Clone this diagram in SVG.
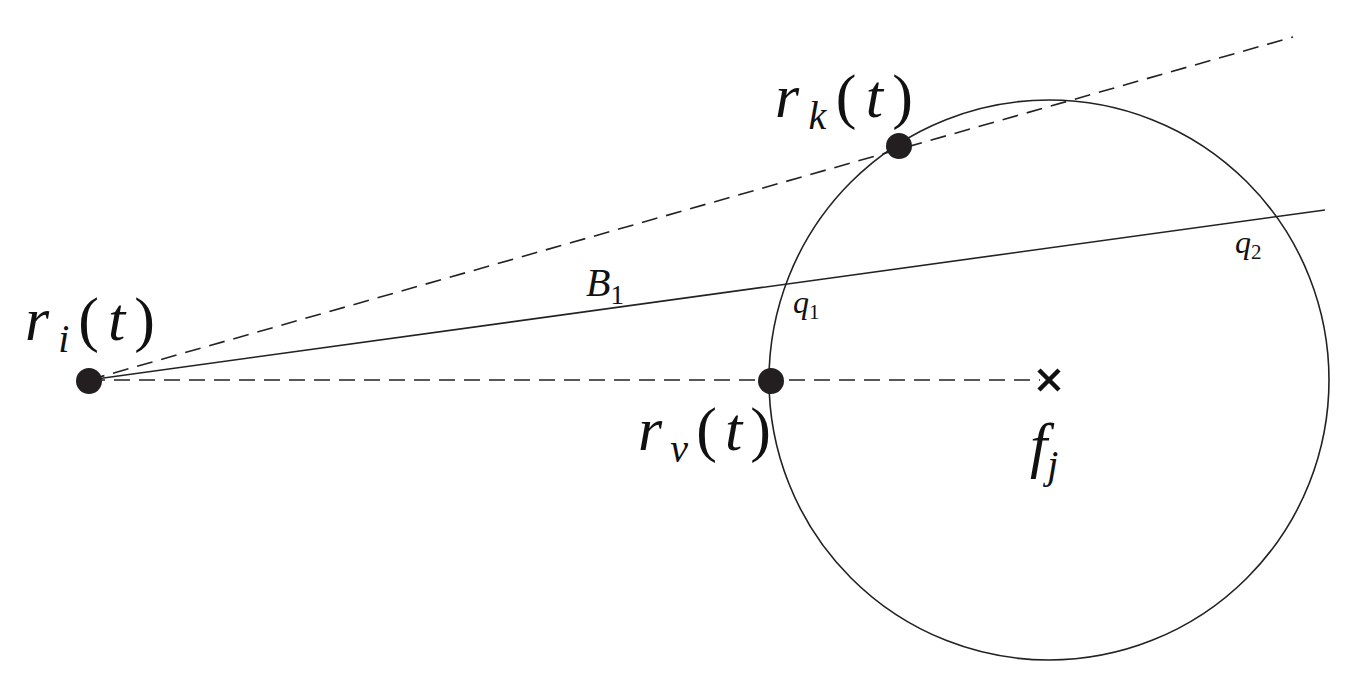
<svg xmlns="http://www.w3.org/2000/svg" width="1367" height="688" viewBox="0 0 1367 688">
<style>
.l{fill:none;stroke:#222;stroke-width:1.6}
.d{stroke-dasharray:16 9}
.t{font-family:"Liberation Serif","DejaVu Serif","Times New Roman",serif;fill:#111}
.i{font-style:italic}
.p{fill:#231f20}
</style>
<rect width="1367" height="688" fill="#fff"/>
<g id="connectors">
<line class="l d" x1="89" y1="380" x2="1293" y2="37"/>
<line class="l" x1="89" y1="380" x2="1325" y2="210"/>
<line class="l d" x1="89" y1="380" x2="1040" y2="380"/>
</g>
<g id="circle"><circle class="l" cx="1049" cy="380" r="280"/></g>
<g id="ri"><circle class="p" cx="89" cy="381" r="13"/>
<text class="t" x="25" y="340" font-size="62" textLength="130" lengthAdjust="spacing"><tspan class="i">r</tspan><tspan class="i" font-size="40" dy="12">i</tspan><tspan dy="-12">(</tspan><tspan class="i">t</tspan>)</text></g>
<g id="rk"><circle class="p" cx="899" cy="146" r="13"/>
<text class="t" x="775" y="117" font-size="62" textLength="138" lengthAdjust="spacing"><tspan class="i">r</tspan><tspan class="i" font-size="40" dy="12">k</tspan><tspan dy="-12">(</tspan><tspan class="i">t</tspan>)</text></g>
<g id="rv"><circle class="p" cx="771" cy="381" r="13"/>
<text class="t" x="638" y="450" font-size="62" textLength="133" lengthAdjust="spacing"><tspan class="i">r</tspan><tspan class="i" font-size="40" dy="12">v</tspan><tspan dy="-12">(</tspan><tspan class="i">t</tspan>)</text></g>
<g id="fj"><path d="M1039 370 L1059 390 M1059 370 L1039 390" stroke="#111" stroke-width="4.5"/>
<text class="t" x="1030" y="466" font-size="62"><tspan class="i">f</tspan><tspan class="i" font-size="40" dy="12">j</tspan></text></g>
<g id="labels">
<text class="t" x="586" y="296" font-size="40"><tspan class="i">B</tspan><tspan font-size="27" dy="8">1</tspan></text>
<text class="t" x="793" y="313" font-size="32"><tspan class="i">q</tspan><tspan font-size="21" dy="6">1</tspan></text>
<text class="t" x="1235" y="253" font-size="32"><tspan class="i">q</tspan><tspan font-size="21" dy="6">2</tspan></text>
</g>
</svg>
